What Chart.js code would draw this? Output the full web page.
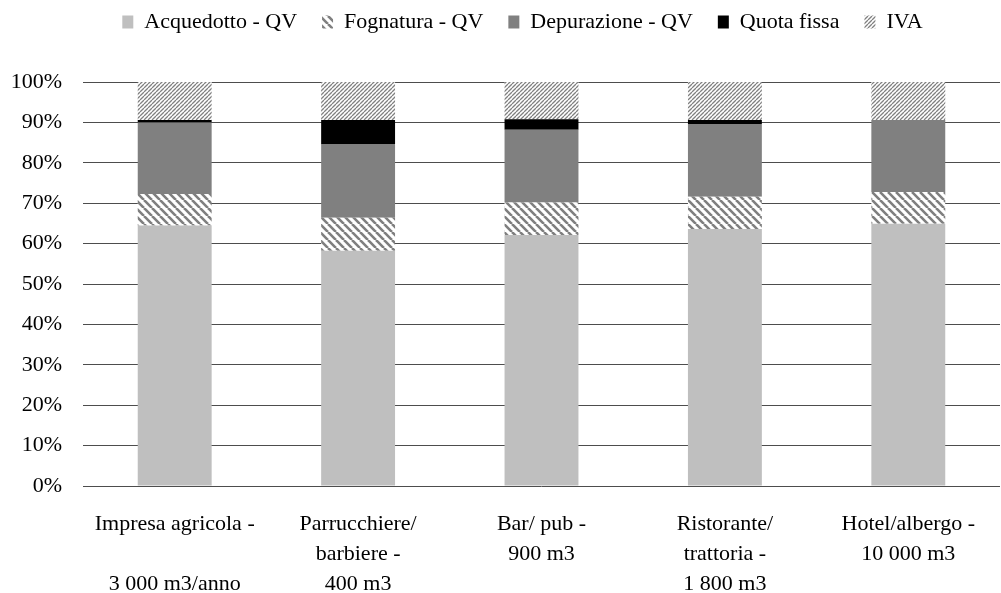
<!DOCTYPE html>
<html>
<head>
<meta charset="utf-8">
<script src="https://cdn.jsdelivr.net/npm/chart.js@4.4.1/dist/chart.umd.min.js"></script>
<style>
  html, body { margin: 0; padding: 0; background: #fff; }
</style>
</head>
<body>
<canvas id="myChart" width="1001" height="593"></canvas>
<script>
// categories (x axis), multi-line like the original
const categories = [
  ["Impresa agricola -", "", "3 000 m3/anno"],
  ["Parrucchiere/", "barbiere -", "400 m3"],
  ["Bar/ pub -", "900 m3"],
  ["Ristorante/", "trattoria -", "1 800 m3"],
  ["Hotel/albergo -", "10 000 m3"]
];

// shares in % of total bill
const acquedotto = [64.5, 58.2, 62.1, 63.6, 64.9];
const fognatura  = [7.8, 8.2, 8.1, 8.0, 7.9];
const depurazione = [17.7, 18.1, 18.0, 18.0, 17.8];
const quotaFissa = [0.6, 6.1, 2.6, 1.0, 0.0];
const iva        = [9.4, 9.4, 9.2, 9.4, 9.4];

const yTicks = ["0%", "10%", "20%", "30%", "40%", "50%", "60%", "70%", "80%", "90%", "100%"];

function stripes(size, width, color, up) {
  const c = document.createElement('canvas');
  c.width = size; c.height = size;
  const g = c.getContext('2d');
  g.fillStyle = '#fff';
  g.fillRect(0, 0, size, size);
  g.strokeStyle = color;
  g.lineWidth = width;
  g.beginPath();
  for (let k = -1; k <= 1; k++) {
    if (up) {
      g.moveTo(k * size, size);
      g.lineTo(k * size + size, 0);
    } else {
      g.moveTo(k * size, 0);
      g.lineTo(k * size + size, size);
    }
  }
  g.stroke();
  return g.createPattern(c, 'repeat');
}

const fognaturaFill = stripes(8, 2.6, '#7f7f7f', false);
const ivaFill = stripes(4, 1.3, '#808080', true);

Chart.defaults.font.family = "'Liberation Serif', 'Times New Roman', serif";
Chart.defaults.font.size = 22;
Chart.defaults.color = '#000';

// move the legend up/left, keep the plot area where it is
const legendNudge = {
  id: 'legendNudge',
  afterLayout(chart) {
    const l = chart.legend;
    const h = l.bottom - l.top;
    l.top = -14;
    l.bottom = l.top + h;
    l.left -= 19;
    l.right -= 19;
  }
};

const ctx = document.getElementById('myChart');

new Chart(ctx, {
  type: 'bar',
  data: {
    labels: categories,
    datasets: [
      { label: 'Acquedotto - QV', data: acquedotto, backgroundColor: '#bfbfbf' },
      { label: 'Fognatura - QV', data: fognatura, backgroundColor: fognaturaFill },
      { label: 'Depurazione - QV', data: depurazione, backgroundColor: '#808080' },
      { label: 'Quota fissa', data: quotaFissa, backgroundColor: '#000000' },
      { label: 'IVA', data: iva, backgroundColor: ivaFill }
    ]
  },
  options: {
    responsive: false,
    animation: false,
    devicePixelRatio: 1,
    layout: { padding: { left: 10, right: 1, top: 25, bottom: 0 } },
    datasets: {
      bar: { categoryPercentage: 1, barPercentage: 0.403, borderWidth: 0 }
    },
    plugins: {
      legend: {
        position: 'top',
        fullSize: false,
        labels: {
          boxWidth: 11,
          boxHeight: 13,
          padding: 25,
          color: '#000',
          font: { size: 22 }
        }
      },
      tooltip: { enabled: false }
    },
    scales: {
      x: {
        stacked: true,
        grid: { display: false, drawTicks: false },
        border: { display: false },
        ticks: {
          padding: 23,
          maxRotation: 0,
          autoSkip: false,
          font: { size: 22, lineHeight: 1.364 }
        },
        afterFit: s => { s.height = 107; }
      },
      y: {
        stacked: true,
        min: 0,
        max: 100,
        grid: { color: '#4d4d4d', lineWidth: 1, drawTicks: false },
        border: { display: false },
        ticks: {
          stepSize: 10,
          padding: 21,
          font: { size: 22 },
          callback: (v, i) => yTicks[i]
        },
        afterFit: s => { s.width = 73; }
      }
    }
  },
  plugins: [legendNudge]
});
</script>
</body>
</html>
